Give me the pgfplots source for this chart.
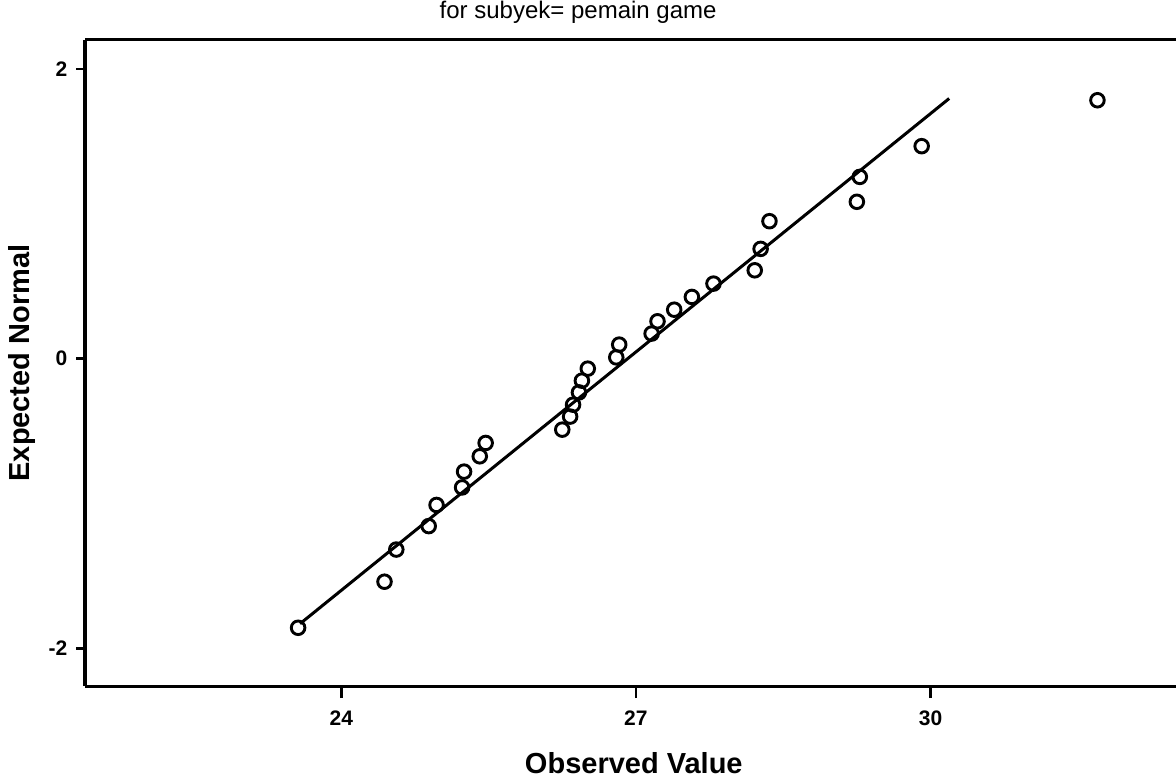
\documentclass[border=0pt]{standalone}
\usepackage{fontspec}
\setmainfont{Liberation Sans}
\usepackage{pgfplots}
\pgfplotsset{compat=1.18}

\begin{document}
\begin{tikzpicture}
\begin{axis}[
  name=ax,
  scale only axis,
  width=545.5pt, height=323pt,
  xmin=21.39, xmax=32.50,
  ymin=-2.26, ymax=2.20,
  axis x line*=box, axis y line*=left,
  axis line style={line width=1.5pt, black},
  xtick={24,27,30}, xticklabels={24,27,30},
  ytick={-2,0,2}, yticklabels={-2,0,2},
  xtick pos=bottom, ytick pos=left,
  tick align=outside,
  xtick style={line width=1.2pt, black, /pgfplots/major tick length=6pt},
  ytick style={line width=1.2pt, black, /pgfplots/major tick length=4.5pt},
  ticklabel style={font=\bfseries\fontsize{10.5}{12}\selectfont},
  xticklabel shift=4.5pt,
  yticklabel shift=1pt,
  clip=false,
]
% fitted normal line
\addplot[black, line width=1.5pt] coordinates {(23.58,-1.83) (30.19,1.796)};
% observed values against expected normal quantiles
\addplot[only marks, mark=o, mark size=3.4pt, mark options={line width=1.45pt, black}] coordinates {
(23.56,-1.858) (24.44,-1.540) (24.56,-1.318) (24.89,-1.156) (24.97,-1.010)
(25.23,-0.889) (25.25,-0.780) (25.41,-0.674) (25.47,-0.582) (26.25,-0.490)
(26.33,-0.400) (26.36,-0.318) (26.42,-0.233) (26.45,-0.152) (26.51,-0.069)
(26.80,0.009) (26.83,0.097) (27.16,0.173) (27.22,0.258) (27.39,0.338)
(27.57,0.426) (27.79,0.518) (28.21,0.610) (28.27,0.758) (28.36,0.949)
(29.25,1.083) (29.28,1.255) (29.91,1.467) (31.70,1.784)
};
\node[font=\fontsize{12}{14}\selectfont] at ([yshift=14pt]rel axis cs:0.452,1) {for subyek= pemain game};
\node[font=\bfseries\fontsize{14.5}{16}\selectfont, rotate=90] at ([xshift=-31.5pt]rel axis cs:0,0.5) {Expected Normal};
\node[font=\bfseries\fontsize{14.5}{16}\selectfont] at ([yshift=-38.5pt]rel axis cs:0.503,0) {Observed Value};
\end{axis}
\pgfresetboundingbox
\path[use as bounding box] ([xshift=-42.5pt,yshift=-47.5pt]ax.south west) rectangle ([yshift=20pt]ax.north east);
\end{tikzpicture}
\end{document}
